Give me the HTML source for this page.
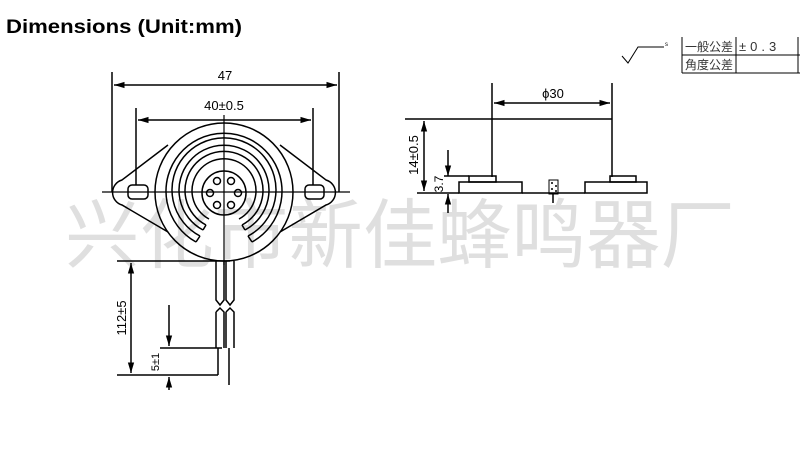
<!DOCTYPE html>
<html><head><meta charset="utf-8"><style>
html,body{margin:0;padding:0;background:#fff;}
svg{display:block;}
</style></head><body>
<svg width="800" height="450" viewBox="0 0 800 450" xmlns="http://www.w3.org/2000/svg" font-family="Liberation Sans, sans-serif">
<defs>
<marker id="a" viewBox="0 0 10 10" refX="10" refY="5" markerWidth="7" markerHeight="7" orient="auto-start-reverse"><path d="M0,2 L10,5 L0,8z" fill="#000"/></marker>
</defs>
<rect width="800" height="450" fill="#fff"/>
<text x="6" y="33" font-size="19" font-weight="bold" textLength="236" lengthAdjust="spacingAndGlyphs">Dimensions (Unit:mm)</text>

<g stroke="#000" stroke-width="1.5" fill="none">
<line x1="112" y1="72" x2="112" y2="192"/>
<line x1="339" y1="72" x2="339" y2="192"/>
<line x1="114" y1="85" x2="337" y2="85" marker-start="url(#a)" marker-end="url(#a)"/>
<line x1="136" y1="108" x2="136" y2="185"/>
<line x1="313" y1="108" x2="313" y2="185"/>
<line x1="138" y1="120" x2="311" y2="120" marker-start="url(#a)" marker-end="url(#a)"/>
<path d="M168,145 L122,180 A13,13 0 0 0 122,205 L168,232"/>
<path d="M280,145 L326,180 A13,13 0 0 1 326,205 L280,232"/>
<circle cx="224" cy="192" r="69"/>
<rect x="128" y="185" width="20" height="14" rx="4"/>
<rect x="305" y="185" width="19" height="14" rx="4"/>
<path d="M196,242 A58,58 0 1 1 252,242"/>
<path d="M200,236 A52,52 0 1 1 248,236"/>
<path d="M203,230 A45,45 0 1 1 245,230"/>
<path d="M206,225 A39,39 0 1 1 242,225"/>
<path d="M209,219 A32,32 0 1 1 239,219"/>
<path d="M196,242 L200,236 M252,242 L248,236 M203,230 L206,225 M245,230 L242,225"/>
<circle cx="224" cy="193" r="22"/>
<circle cx="217" cy="181" r="3.5"/><circle cx="231" cy="181" r="3.5"/>
<circle cx="210" cy="193" r="3.5"/><circle cx="238" cy="193" r="3.5"/>
<circle cx="217" cy="205" r="3.5"/><circle cx="231" cy="205" r="3.5"/>
<line x1="102" y1="192" x2="350" y2="192" stroke-width="1.2"/>
<line x1="224" y1="115" x2="224" y2="265" stroke-width="1.2"/>

<line x1="492" y1="83" x2="492" y2="177"/>
<line x1="612" y1="83" x2="612" y2="177"/>
<line x1="494" y1="103" x2="610" y2="103" marker-start="url(#a)" marker-end="url(#a)"/>
<line x1="405" y1="119" x2="612" y2="119"/>
<line x1="424" y1="121" x2="424" y2="191" marker-start="url(#a)" marker-end="url(#a)"/>
<line x1="417" y1="193" x2="459" y2="193"/>
<line x1="522" y1="193" x2="585" y2="193"/>
<rect x="459" y="182" width="63" height="11"/>
<rect x="469" y="176" width="27" height="6"/>
<rect x="585" y="182" width="62" height="11"/>
<rect x="610" y="176" width="26" height="6"/>
<rect x="549" y="180" width="9" height="14" stroke-width="1"/>
<path d="M551,183h2M555,186h2M551,189h2M555,191h2" stroke-width="1.5"/>
<line x1="553" y1="194" x2="553" y2="203"/>
<line x1="448" y1="150" x2="448" y2="176" marker-end="url(#a)"/>
<line x1="448" y1="213" x2="448" y2="194" marker-end="url(#a)"/>
<line x1="444" y1="176" x2="469" y2="176"/>

<line x1="117" y1="261" x2="230" y2="261"/>
<line x1="131" y1="263" x2="131" y2="373" marker-start="url(#a)" marker-end="url(#a)"/>
<line x1="117" y1="375" x2="218" y2="375"/>
<line x1="160" y1="348" x2="222" y2="348"/>
<line x1="169" y1="305" x2="169" y2="346" marker-end="url(#a)"/>
<line x1="169" y1="390" x2="169" y2="377" marker-end="url(#a)"/>
<path d="M216,261 V300 L220,305 L224,300 V261"/>
<path d="M226,261 V300 L230,305 L234,300 V261"/>
<path d="M216,312 L220,308 L224,312 V348 M216,312 V348"/>
<path d="M226,312 L230,308 L234,312 V348 M226,312 V348"/>
<line x1="218" y1="348" x2="218" y2="375"/>
<line x1="229" y1="348" x2="229" y2="385"/>

<line x1="682" y1="37" x2="682" y2="73" stroke-width="1"/>
<line x1="736" y1="37" x2="736" y2="73" stroke-width="1"/>
<line x1="798" y1="37" x2="798" y2="73" stroke-width="1"/>
<line x1="682" y1="55" x2="800" y2="55" stroke-width="1"/>
<line x1="682" y1="73" x2="800" y2="73" stroke-width="1"/>
<path d="M622,56 L628,63 L638,47 L664,47" stroke-width="1"/>
</g>
<text x="665" y="46" font-size="6">s</text>
<g font-size="12" fill="#333" font-family="Liberation Sans, Noto Sans CJK JP, sans-serif">
<text x="685" y="51">一般公差</text>
<text x="739" y="51" letter-spacing="4" font-size="13">±0.3</text>
<text x="685" y="69">角度公差</text>
</g>
<g font-size="13" text-anchor="middle">
<text x="225" y="80">47</text>
<text x="224" y="110">40±0.5</text>
<text x="553" y="98">ϕ30</text>
<text transform="translate(418,155) rotate(-90)">14±0.5</text>
<text transform="translate(443,184) rotate(-90)" font-size="12">3.7</text>
<text transform="translate(126,318) rotate(-90)">112±5</text>
<text transform="translate(159,362) rotate(-90)" font-size="11">5±1</text>
</g>
<text x="400" y="262" font-size="76" text-anchor="middle" fill="#000" opacity="0.12" font-family="Liberation Sans, Noto Sans CJK SC, sans-serif" textLength="670" lengthAdjust="spacingAndGlyphs">兴化市新佳蜂鸣器厂</text>
</svg>
</body></html>
